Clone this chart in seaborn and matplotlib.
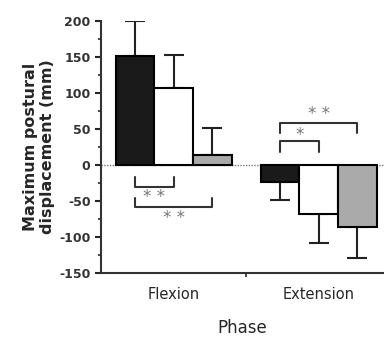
import matplotlib
matplotlib.use("Agg")
import matplotlib.pyplot as plt
import numpy as np
import pandas as pd
import seaborn as sns

# ── Données ─────────────────────────────────────────────────────────────────
phases = ["Flexion", "Extension"]
groups = ["A", "B", "C"]
means_flexion = [151, 107, 14]
means_extension = [-24, -68, -86]
err_flexion = [49, 46, 37]
err_extension = [25, 40, 43]
bar_colors = ["#1a1a1a", "#ffffff", "#aaaaaa"]

df = pd.DataFrame({
    "Phase": np.repeat(phases, len(groups)),
    "Group": groups * len(phases),
    "mean": means_flexion + means_extension,
    "err": err_flexion + err_extension,
})

sns.set_style("ticks")
plt.rcParams["font.family"] = ["DejaVu Sans"]
plt.rcParams["axes.unicode_minus"] = False

fig = plt.figure(figsize=(3.84, 3.38), dpi=100)
ax = fig.add_axes([0.263, 0.192, 0.737, 0.746])

sns.barplot(data=df, x="Phase", y="mean", hue="Group", order=phases,
            hue_order=groups, palette=bar_colors, errorbar=None,
            edgecolor="black", linewidth=1.5, width=0.8, ax=ax, zorder=3)
ax.get_legend().remove()

# barres d'erreur d'un seul côté (loin de zéro)
centers = {}
for gi, g in enumerate(groups):
    for pi, ph in enumerate(phases):
        bar = ax.patches[gi * len(phases) + pi]
        xc = bar.get_x() + bar.get_width() / 2
        centers[(ph, g)] = xc
        row = df[(df["Phase"] == ph) & (df["Group"] == g)].iloc[0]
        m, e = row["mean"], row["err"]
        yerr = [[0], [e]] if m >= 0 else [[e], [0]]
        ax.errorbar(xc, m, yerr=yerr, fmt="none", ecolor="#222222",
                    elinewidth=1.5, capsize=7.5, capthick=1.5, zorder=2)

# ligne zéro pointillée
ax.axhline(0, color="#777777", lw=1, ls=(0, (1, 1)), zorder=1)

# crochets de significativité
def sig(x1, x2, y, tip, text, ty):
    ax.plot([x1, x1, x2, x2], [tip, y, y, tip], color="#333333", lw=1.5, zorder=4)
    ax.text((x1 + x2) / 2, ty, text, ha="center", va="center",
            fontsize=12, color="#777777")

sig(centers[("Flexion", "A")], centers[("Flexion", "B")], -30, -17, "* *", -45)
sig(centers[("Flexion", "A")], centers[("Flexion", "C")], -58, -46, "* *", -73)
sig(centers[("Extension", "A")], centers[("Extension", "B")], 33, 18, "*", 42)
sig(centers[("Extension", "A")], centers[("Extension", "C")], 58, 44, "* *", 71)

ax.set_ylim(-150, 200)
ax.set_xlim(-0.5, 1.45)
ax.set_yticks(np.arange(-150, 201, 50))
ax.set_yticks(np.arange(-150, 201, 25), minor=True)
ax.set_xticks([0, 1])
ax.set_xticks([0.5], minor=True)
ax.tick_params(axis="x", which="major", length=0, labelsize=10.5, pad=10)
ax.tick_params(axis="x", which="minor", length=3, width=1.2)
ax.tick_params(axis="y", which="major", length=4, width=1.5, labelsize=9)
ax.tick_params(axis="y", which="minor", length=2.5, width=1.2)
for lab in ax.get_yticklabels():
    lab.set_fontweight("bold")
    lab.set_color("#333333")

for s in ["left", "bottom"]:
    ax.spines[s].set_linewidth(1.5)
    ax.spines[s].set_color("#333333")
sns.despine(ax=ax, right=True, top=True)

ax.set_xlabel("Phase", fontsize=12, labelpad=12)
ax.set_ylabel("Maximum postural\ndisplacement (mm)", fontsize=11.5,
              fontweight="bold", labelpad=3)

fig.savefig("out.png", dpi=100)
plt.close()
